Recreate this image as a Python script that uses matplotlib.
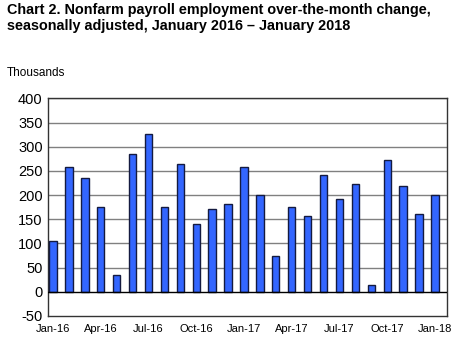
import matplotlib
matplotlib.use("Agg")
import matplotlib.pyplot as plt
import numpy as np

plt.rcParams['font.family'] = ['Liberation Sans', 'DejaVu Sans']
plt.rcParams['axes.unicode_minus'] = False

# Donnees (milliers)
mois = ["Jan-16", "Feb-16", "Mar-16", "Apr-16", "May-16", "Jun-16", "Jul-16",
        "Aug-16", "Sep-16", "Oct-16", "Nov-16", "Dec-16", "Jan-17", "Feb-17",
        "Mar-17", "Apr-17", "May-17", "Jun-17", "Jul-17", "Aug-17", "Sep-17",
        "Oct-17", "Nov-17", "Dec-17", "Jan-18"]
valeurs = [104, 258, 236, 175, 35, 285, 326, 175, 265, 140, 172, 181, 258,
           201, 73, 175, 157, 241, 192, 222, 14, 273, 219, 161, 201]
ticks_idx = [0, 3, 6, 9, 12, 15, 18, 21, 24]

fig = plt.figure(figsize=(4.64, 3.43), dpi=100)
ax = fig.add_axes([0.104, 0.079, 0.859, 0.634])

x = np.arange(len(mois))
ax.bar(x, valeurs, width=0.46, color='#3366ff', edgecolor='#141a40', linewidth=1.0, zorder=3)

ax.set_ylim(-50, 400)
ax.set_xlim(-0.3, 24.75)
ax.set_yticks(np.arange(-50, 401, 50))
for v in np.arange(50, 401, 50):
    ax.axhline(v, color='#808080', linewidth=1.0, zorder=1)
ax.axhline(0, color='black', linewidth=1.0, zorder=4)

ax.set_xticks(ticks_idx)
ax.set_xticklabels([mois[i] for i in ticks_idx], fontsize=8)
ax.tick_params(axis='both', length=0)
ax.tick_params(axis='y', labelsize=10.5, pad=4)
ax.tick_params(axis='x', pad=6)
for s in ax.spines.values():
    s.set_color('#333333')
    s.set_linewidth(1.0)

fig.text(7/464, 1 - 3/343, "Chart 2. Nonfarm payroll employment over-the-month change,\nseasonally adjusted, January 2016 \u2013 January 2018",
         fontsize=10.4, fontweight='bold', va='top', ha='left', linespacing=1.15)
fig.text(7/464, 1 - 73/343, "Thousands", fontsize=8.5, va='center', ha='left')

plt.savefig('out.png', dpi=100)
